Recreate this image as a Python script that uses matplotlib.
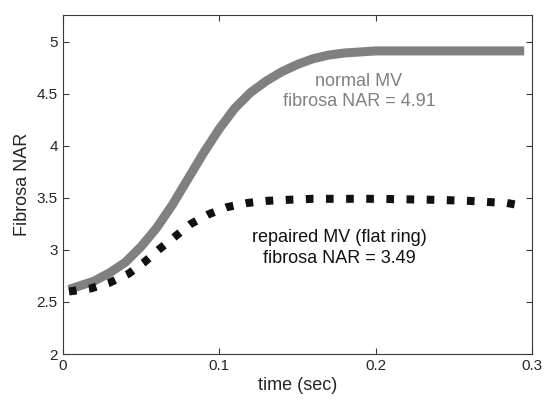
import numpy as np
from matplotlib import pyplot as plt

plt.rcParams['font.family'] = ['Liberation Sans', 'DejaVu Sans']

# normal MV (gray solid)
t_normal = [0.004, 0.01, 0.02, 0.03, 0.04, 0.05, 0.06, 0.07, 0.08, 0.09, 0.10,
            0.11, 0.12, 0.13, 0.14, 0.15, 0.16, 0.17, 0.18, 0.19, 0.20, 0.25, 0.295]
nar_normal = [2.62, 2.65, 2.70, 2.78, 2.88, 3.03, 3.21, 3.43, 3.68, 3.93, 4.16,
              4.36, 4.51, 4.62, 4.71, 4.78, 4.835, 4.87, 4.89, 4.90, 4.91, 4.91, 4.91]

# repaired MV, flat ring (black dotted)
t_repaired = [0.004, 0.018, 0.030, 0.042, 0.052, 0.062, 0.072, 0.082, 0.093,
              0.105, 0.118, 0.130, 0.143, 0.16, 0.20, 0.24, 0.26, 0.271, 0.284, 0.295]
nar_repaired = [2.60, 2.63, 2.685, 2.77, 2.88, 3.01, 3.13, 3.25, 3.34,
                3.41, 3.45, 3.47, 3.48, 3.49, 3.49, 3.48, 3.47, 3.46, 3.45, 3.42]

xticks = [0, 0.1, 0.2, 0.3]
yticks = [2, 2.5, 3, 3.5, 4, 4.5, 5]


def main():
    fig = plt.figure(figsize=(5.44, 4.0), dpi=100)
    ax = fig.add_axes([0.1153, 0.115, 0.8627, 0.8475])

    ax.plot(t_normal, nar_normal, color='#808080', lw=6.5, solid_capstyle='butt')
    ax.plot(t_repaired, nar_repaired, color='#111111', lw=5.8,
            linestyle=(0, (0.95, 1.55)), dash_capstyle='butt')

    ax.text(0.1894, 4.52, 'normal MV\nfibrosa NAR = 4.91', color='#808080',
            fontsize=13, ha='center', va='center', linespacing=1.3)
    ax.text(0.1766, 3.02, 'repaired MV (flat ring)\nfibrosa NAR = 3.49', color='#111111',
            fontsize=13, ha='center', va='center', linespacing=1.3)

    ax.set_xlim(0, 0.3)
    ax.set_ylim(2, 5.255)
    ax.set_xticks(xticks)
    ax.set_xticklabels(['0', '0.1', '0.2', '0.3'])
    ax.set_yticks(yticks)
    ax.set_yticklabels(['2', '2.5', '3', '3.5', '4', '4.5', '5'])
    ax.tick_params(direction='in', top=True, right=True, length=4, width=0.8,
                   colors='#3a3a3a', labelsize=11, labelcolor='#262626')
    for s in ax.spines.values():
        s.set_color('#3a3a3a')
        s.set_linewidth(0.8)

    ax.set_xlabel('time (sec)', fontsize=13, color='#262626', labelpad=3)
    ax.set_ylabel('Fibrosa NAR', fontsize=13, color='#262626', labelpad=4)

    plt.savefig('out.png', dpi=100)


if __name__ == '__main__':
    main()
